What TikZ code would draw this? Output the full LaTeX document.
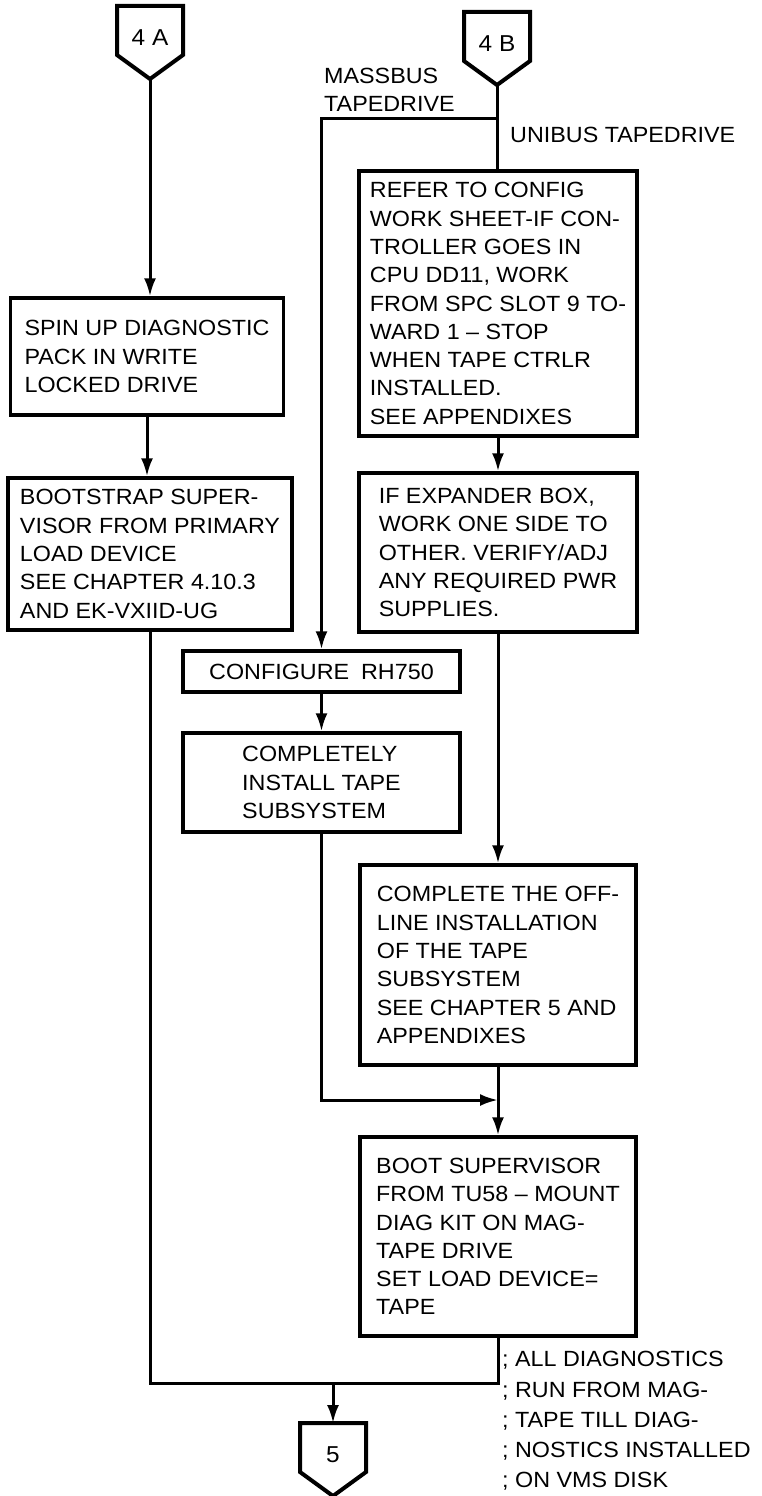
\documentclass[tikz,border=0pt]{standalone}
\usepackage{fontspec}
\setmainfont{Liberation Sans}[FakeStretch=1.06]
\usetikzlibrary{arrows.meta}

\newcommand{\boxfont}{\fontsize{22}{28.3}\selectfont}
\newcommand{\tagfont}{\fontsize{23}{26}\selectfont}

% off-page connector: name, x, top y, label
\newcommand{\offpage}[4]{%
  \draw[offpg] ({#2-33},#3) -- ({#2+33},#3) -- ({#2+33},{#3+49}) -- (#2,{#3+73}) -- ({#2-33},{#3+49}) -- cycle;
  \node[font=\tagfont,inner sep=0pt] (#1) at (#2,{#3+32}) {#4};
  \coordinate (#1-top) at (#2,#3);
  \coordinate (#1-tip) at (#2,{#3+73});
}

\begin{document}
\begin{tikzpicture}[x=1pt,y=-1pt,
    stepbox/.style={draw,line width=3.4pt,align=left,inner sep=0pt,font=\boxfont},
    note/.style={align=left,inner sep=0pt,font=\boxfont},
    link/.style={line width=3pt},
    flow/.style={line width=3pt,-{Latex[length=18pt,width=12pt]}},
    offpg/.style={line width=4pt,line join=miter}]
    \useasboundingbox (0,0) rectangle (762,1496);

    \offpage{c4A}{150}{6}{4 A}
    \offpage{c4B}{497}{12}{4 B}
    \offpage{c5}{333}{1423}{5}

    % left column
    \node[stepbox,minimum width=273pt,minimum height=117pt] (spin) at (147,356.5)
      {SPIN UP DIAGNOSTIC\\PACK IN WRITE\\LOCKED DRIVE};
    \node[stepbox,minimum width=284pt,minimum height=152pt] (bootstrap) at (150,554)
      {BOOTSTRAP SUPER-\\VISOR FROM PRIMARY\\LOAD DEVICE\\SEE CHAPTER 4.10.3\\AND EK-VXIID-UG};

    % massbus branch
    \node[stepbox,minimum width=277pt,minimum height=41pt] (config) at (321.5,671.5)
      {CONFIGURE\hspace{12pt}RH750};
    \node[stepbox,minimum width=277pt,minimum height=99pt] (install) at (321.5,782.5)
      {COMPLETELY\\INSTALL TAPE\\SUBSYSTEM};

    % unibus branch
    \node[stepbox,minimum width=278pt,minimum height=265pt] (refer) at (498,303.5)
      {REFER TO CONFIG\\WORK SHEET-IF CON-\\TROLLER GOES IN\\CPU DD11, WORK\\FROM SPC SLOT 9 TO-\\WARD 1 -- STOP\\WHEN TAPE CTRLR\\INSTALLED.\\SEE APPENDIXES};
    \node[stepbox,minimum width=278pt,minimum height=159pt] (expander) at (498,552.5)
      {IF EXPANDER BOX,\\WORK ONE SIDE TO\\OTHER. VERIFY/ADJ\\ANY REQUIRED PWR\\SUPPLIES.};
    \node[stepbox,minimum width=276pt,minimum height=200pt] (offline) at (498,965)
      {COMPLETE THE OFF-\\LINE INSTALLATION\\OF THE TAPE\\SUBSYSTEM\\SEE CHAPTER 5 AND\\APPENDIXES};
    \node[stepbox,minimum width=276pt,minimum height=199pt] (bootsup) at (498,1236.5)
      {BOOT SUPERVISOR\\FROM TU58 -- MOUNT\\DIAG KIT ON MAG-\\TAPE DRIVE\\SET LOAD DEVICE=\\TAPE};

    % labels
    \node[note,anchor=west] (massbus) at (324,90) {MASSBUS\\TAPEDRIVE};
    \node[note,anchor=west] (unibus) at (510,135) {UNIBUS TAPEDRIVE};
    \node[note,anchor=west,font=\fontsize{22}{30.2}\selectfont] (diagnote) at (502,1421)
      {; ALL DIAGNOSTICS\\; RUN FROM MAG-\\; TAPE TILL DIAG-\\; NOSTICS INSTALLED\\; ON VMS DISK};

    \coordinate (split) at (497,118);
    \coordinate (merge) at (498,1100);
    \coordinate (join) at (333,1383);

    \draw[flow] (c4A-tip) -- (c4A-tip |- spin.north);
    \draw[flow] (spin.south) -- (spin.south |- bootstrap.north);
    \draw[link] (c4B-tip) -- (c4B-tip |- refer.north);
    \draw[flow] (split) -| (config.north);
    \draw[flow] (refer.south) -- (expander.north);
    \draw[flow] (expander.south) -- (offline.north);
    \draw[flow] (config.south) -- (install.north);
    \draw[flow] (install.south) |- (merge);
    \draw[flow] (offline.south) -- (bootsup.north);
    \draw[link] (bootstrap.south) |- (bootsup.south |- join) -- (bootsup.south);
    \draw[flow] (join) -- (c5-top);
\end{tikzpicture}
\end{document}
